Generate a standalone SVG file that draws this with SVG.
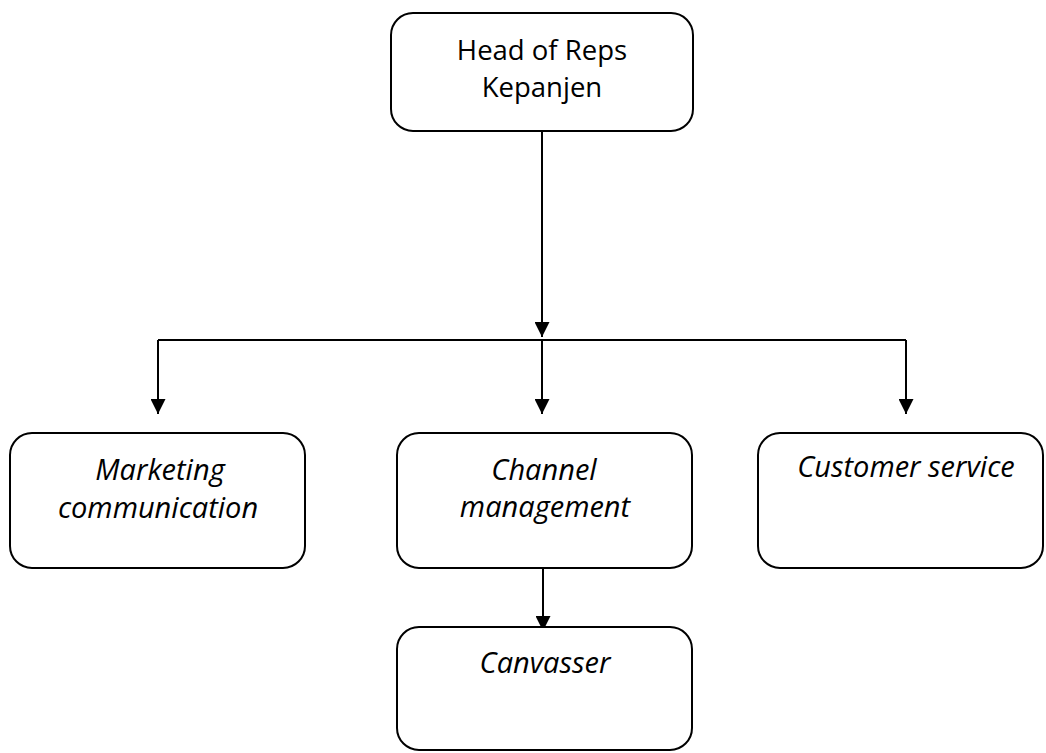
<svg xmlns="http://www.w3.org/2000/svg" width="1046" height="753" viewBox="0 0 1046 753">
<style>
.box{fill:#fff;stroke:#000;stroke-width:2}
.t{font-family:"Open Sans","Liberation Sans",sans-serif;font-size:27.5px;fill:#000;text-anchor:middle}
.i{font-style:italic;font-size:29px}
.c{fill:none;stroke:#000;stroke-width:2}
</style>
<defs>
<marker id="ah" markerWidth="15" markerHeight="15" refX="15" refY="7.5" orient="auto" markerUnits="userSpaceOnUse">
<path d="M0,0 L15,7.5 L0,15 Z" fill="#000"/>
</marker>
</defs>
<rect width="1046" height="753" fill="#fff"/>
<g id="connectors">
<path class="c" d="M542,131 V337" marker-end="url(#ah)"/>
<path class="c" d="M158,340 H906"/>
<path class="c" d="M158,340 V414" marker-end="url(#ah)"/>
<path class="c" d="M542,340 V414" marker-end="url(#ah)"/>
<path class="c" d="M906,340 V414" marker-end="url(#ah)"/>
<path class="c" d="M543,568 V631" marker-end="url(#ah)"/>
</g>
<g id="head">
<rect class="box" x="391" y="13" width="302" height="118" rx="22"/>
<text class="t" x="542" y="60">Head of Reps</text>
<text class="t" x="542" y="97">Kepanjen</text>
</g>
<g id="marketing">
<rect class="box" x="10" y="433" width="295" height="135" rx="22"/>
<text class="t i" x="160" y="480">Marketing</text>
<text class="t i" x="158" y="518">communication</text>
</g>
<g id="channel">
<rect class="box" x="397" y="433" width="295" height="135" rx="22"/>
<text class="t i" x="544" y="480">Channel</text>
<text class="t i" x="545" y="517">management</text>
</g>
<g id="customer">
<rect class="box" x="758" y="433" width="285" height="135" rx="22"/>
<text class="t i" x="906" y="477">Customer service</text>
</g>
<g id="canvasser">
<rect class="box" x="397" y="627" width="295" height="123" rx="22"/>
<text class="t i" x="545" y="673">Canvasser</text>
</g>
</svg>
